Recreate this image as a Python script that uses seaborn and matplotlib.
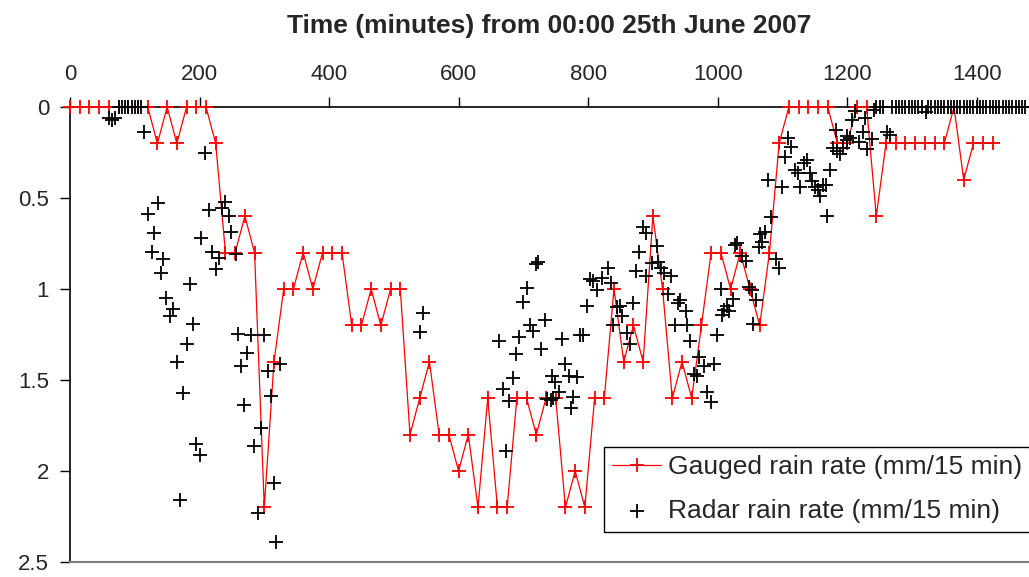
import matplotlib
matplotlib.use("Agg")
import matplotlib.pyplot as plt
import matplotlib.ticker as mticker
import seaborn as sns
import pandas as pd

# ---------------- data ----------------
gauge_time = [0, 15, 30, 45, 60, 75, 90, 105, 120, 135, 150, 165, 180, 195, 210, 225,
              240, 255, 270, 285, 300, 315, 330, 345, 360, 375, 390, 405, 420, 435,
              450, 465, 480, 495, 510, 525, 540, 555, 570, 585, 600, 615, 630, 645,
              660, 675, 690, 705, 720, 735, 750, 765, 780, 795, 810, 825, 840, 855,
              870, 885, 900, 915, 930, 945, 960, 975, 990, 1005, 1020, 1035, 1050,
              1065, 1080, 1095, 1110, 1125, 1140, 1155, 1170, 1185, 1200, 1215, 1230,
              1245, 1260, 1275, 1290, 1305, 1320, 1335, 1350, 1365, 1380, 1395, 1410, 1425]
gauge_rate = [0, 0, 0, 0, 0, 0, 0, 0, 0, 0.2, 0, 0.2, 0, 0, 0, 0.2,
              0.8, 0.8, 0.6, 0.8, 2.2, 1.4, 1.0, 1.0, 0.8, 1.0, 0.8, 0.8, 0.8, 1.2,
              1.2, 1.0, 1.2, 1.0, 1.0, 1.8, 1.6, 1.4, 1.8, 1.8, 2.0, 1.8, 2.2, 1.6,
              2.2, 2.2, 1.6, 1.6, 1.8, 1.6, 1.6, 2.2, 2.0, 2.2, 1.6, 1.6, 1.0, 1.4,
              1.2, 1.4, 0.6, 1.0, 1.6, 1.4, 1.6, 1.2, 0.8, 0.8, 1.0, 0.8, 1.0,
              1.2, 0.8, 0.2, 0, 0, 0, 0, 0, 0.2, 0.2, 0, 0,
              0.6, 0.2, 0.2, 0.2, 0.2, 0.2, 0.2, 0.2, 0, 0.4, 0.2, 0.2, 0.2]

radar_time = [60, 65, 70, 75, 80, 85, 90, 95, 100, 105, 110, 115,
              120, 126, 130, 136, 141, 144, 148, 154, 159, 165, 170, 175, 180, 185,
              190, 195, 200, 203, 208, 214, 219, 225, 230, 234, 240, 245, 249, 257,
              259, 264, 269, 274, 279, 284, 290, 295, 300, 305, 311, 315, 318, 324,
              540, 545,
              663, 669, 673, 678, 684, 689, 694, 700, 705, 710, 715, 719, 722, 728,
              733, 737, 742, 744, 746, 749, 755, 759, 764, 771, 774, 777, 783, 788,
              792, 799, 803, 808, 814, 821, 830, 835, 838, 844, 849, 853, 860, 864,
              869, 874, 879, 885, 889, 890, 898, 907, 908, 912, 917, 924, 928, 934,
              939, 942, 951, 953, 957, 964, 968, 972, 979, 984, 989, 994, 999, 1005,
              1006, 1010, 1014, 1017, 1023, 1027, 1030, 1037, 1044, 1049, 1053, 1055,
              1060, 1064, 1066, 1069, 1073, 1078, 1083, 1090, 1094, 1099, 1104, 1109,
              1114, 1119, 1124, 1127, 1133, 1138, 1143, 1145, 1150, 1155, 1158, 1163,
              1168, 1169, 1174, 1178, 1183, 1185, 1189, 1194, 1199, 1200, 1205, 1207,
              1212, 1219, 1224, 1227, 1231, 1239, 1242, 1245, 1250, 1255, 1261, 1266,
              1270, 1275, 1280, 1285, 1290, 1295, 1300, 1305, 1310, 1315, 1322, 1325,
              1330, 1335, 1340, 1345, 1350, 1355, 1360, 1365, 1370, 1375, 1380, 1385,
              1390, 1395, 1400, 1405, 1410, 1415, 1420, 1425, 1430, 1435, 1440, 1445,
              1450, 1455, 1460, 1465, 1470, 1475]
radar_rate = [0.06, 0.07, 0.06, 0, 0, 0, 0, 0, 0, 0, 0, 0.14,
              0.59, 0.795, 0.69, 0.53, 0.91, 0.835, 1.05, 1.15, 1.11, 1.40, 2.16, 1.57, 1.30, 0.97,
              1.19, 1.85, 1.91, 0.72, 0.25, 0.566, 0.795, 0.89, 0.83, 0.557, 0.52, 0.597, 0.685, 0.81,
              1.247, 1.423, 1.637, 1.353, 1.253, 1.86, 2.23, 1.765, 1.253, 1.449, 1.59, 2.064, 2.39, 1.412,
              1.238, 1.134,
              1.284, 1.551, 1.888, 1.615, 1.487, 1.357, 1.262, 1.07, 0.996, 1.198, 1.229, 0.862, 0.852, 1.33,
              1.17, 1.604, 1.61, 1.476, 1.60, 1.509, 1.568, 1.275, 1.414, 1.476, 1.656, 1.592, 1.485, 1.253,
              1.253, 1.092, 0.945, 0.954, 1.005, 0.941, 0.886, 0.968, 1.198, 1.097, 1.093, 1.148, 1.24, 1.302,
              1.079, 0.899, 0.798, 0.658, 0.694, 0.929, 0.859, 0.764, 0.85, 0.886, 0.914, 1.027, 0.929, 1.2,
              1.079, 1.06, 1.119, 1.2, 1.284, 1.467, 1.476, 1.375, 1.421, 1.564, 1.619, 1.414, 1.253, 1.002,
              1.143, 1.115, 1.093, 1.119, 1.057, 0.758, 0.749, 0.82, 0.846, 0.99, 1.005, 1.19,
              1.06, 0.767, 0.70, 0.74, 0.688, 0.40, 0.603, 0.835, 0.883, 0.438, 0.273, 0.172,
              0.218, 0.346, 0.364, 0.438, 0.31, 0.29, 0.364, 0.407, 0.438, 0.456, 0.487, 0.43,
              0.43, 0.597, 0.346, 0.227, 0.126, 0.242, 0.26, 0.227, 0.158, 0.181, 0.172, 0.071,
              0.022, 0.19, 0.136, 0.059, 0.231, 0.178, 0.016, 0, 0, 0, 0.136, 0.154,
              0, 0, 0, 0, 0, 0, 0, 0, 0, 0, 0.026, 0,
              0, 0, 0, 0, 0, 0, 0, 0, 0, 0, 0, 0,
              0, 0, 0, 0, 0, 0, 0, 0, 0, 0, 0, 0,
              0, 0, 0, 0, 0, 0]

x_ticks = [0, 200, 400, 600, 800, 1000, 1200, 1400]
y_ticks = [0, 0.5, 1, 1.5, 2, 2.5]
title_text = "Time (minutes) from 00:00 25th June 2007"
gauge_label = "Gauged rain rate (mm/15 min)"
radar_label = "Radar rain rate (mm/15 min)"

gauge_df = pd.DataFrame({"t": gauge_time, "v": gauge_rate})
radar_df = pd.DataFrame({"t": radar_time, "v": radar_rate})

# ---------------- plot ----------------
sns.set_theme(style="ticks")
plt.rcParams["font.family"] = ["Liberation Sans", "DejaVu Sans"]

fig = plt.figure(figsize=(10.29, 5.77), dpi=100)
ax = fig.add_axes([70 / 1029, 1 - 562 / 577, 1 - 70 / 1029 - 0.0005, (562 - 107) / 577])

sns.lineplot(data=gauge_df, x="t", y="v", ax=ax, color="#ff0000", linewidth=0.9,
             marker="+", markersize=10, markeredgewidth=1.3, markeredgecolor="#ff0000",
             label=gauge_label, clip_on=False, zorder=3)
sns.scatterplot(data=radar_df, x="t", y="v", ax=ax, color="black", marker="+",
                s=95, linewidth=1.3, label=radar_label, clip_on=False, zorder=4)

ax.set_xlim(0, 1480)
ax.set_ylim(2.5, 0)
ax.xaxis.tick_top()
ax.xaxis.set_label_position("top")
ax.set_xticks(x_ticks)
ax.set_yticks(y_ticks)
ax.yaxis.set_major_formatter(mticker.FuncFormatter(lambda v, p: f"{v:g}"))
ax.set_xlabel(title_text, fontsize=19, fontweight="bold", labelpad=22)
ax.set_ylabel("")
ax.tick_params(axis="both", labelsize=16, direction="out", length=7, width=1,
               color="black", pad=9)
ax.tick_params(axis="y", pad=8)

ax.spines["right"].set_visible(False)
ax.spines["top"].set_color("black")
ax.spines["top"].set_linewidth(1.2)
ax.spines["left"].set_color("black")
ax.spines["left"].set_linewidth(1.2)
ax.spines["bottom"].set_color("#808080")
ax.spines["bottom"].set_linewidth(1.5)

leg = ax.legend(loc="upper left", bbox_to_anchor=(0.557, 0.253), fontsize=19,
                frameon=True, fancybox=False, edgecolor="black", framealpha=1,
                handlelength=1.85, borderpad=0.32, labelspacing=0.75, handletextpad=0.25,
                borderaxespad=0)
leg.get_frame().set_linewidth(1.0)

fig.savefig("out.png", dpi=100)
